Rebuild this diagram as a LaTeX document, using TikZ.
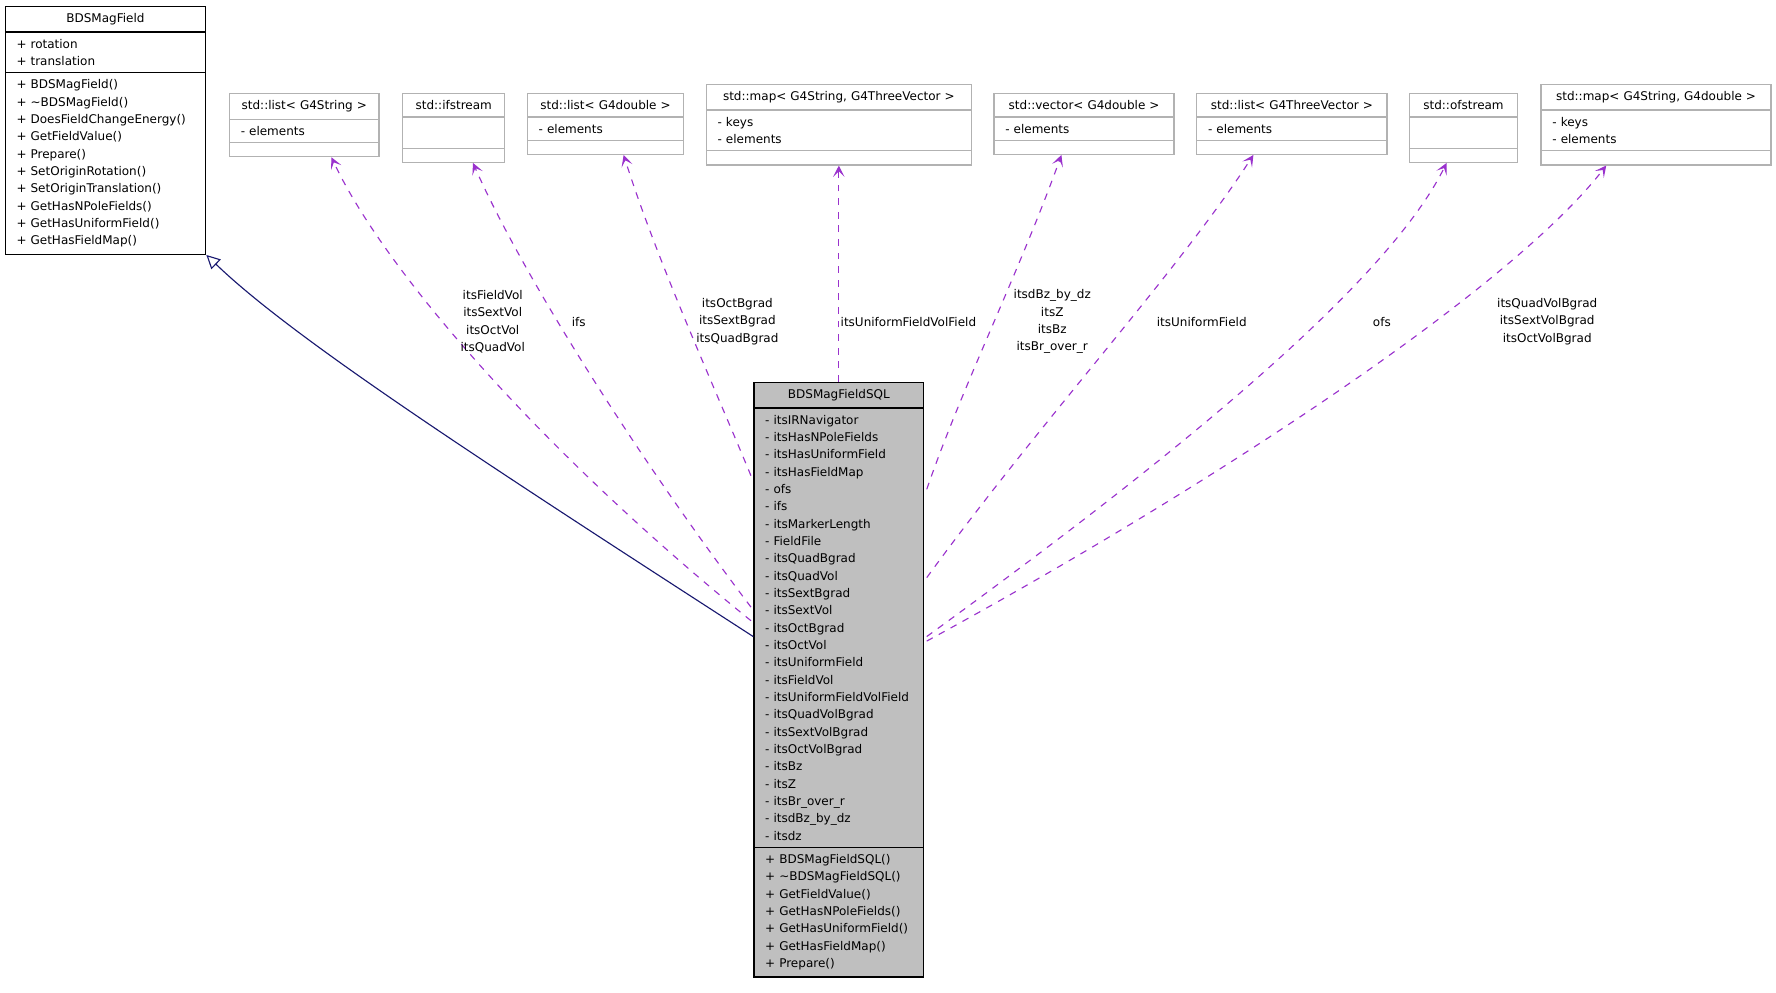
\documentclass[tikz,border=0pt]{standalone}
\usepackage{fontspec}
\setmainfont{DejaVu Sans}
\usetikzlibrary{%
  shapes.multipart,%
  calc,%
  arrows.meta%
}
\definecolor{dep}{HTML}{9A32CD}
\definecolor{inh}{HTML}{191970}
\hyphenpenalty=10000
\exhyphenpenalty=10000

\begin{document}
\begin{tikzpicture}[x=0.5pt,y=-0.5pt,
  font=\fontsize{5.3}{7.65}\selectfont,
  cls/.style={rectangle split,rectangle split parts=3,draw=black!30,
    anchor=north west,inner xsep=5pt,inner ysep=2.8pt,
    every text node part/.style={align=center},
    every two node part/.style={align=left},
    every three node part/.style={align=left},
    rectangle split empty part height=7pt,line width=0.6pt},
  main/.style={cls,draw=black},
  use/.style={dep,dashed,-{Stealth[length=5pt,width=5pt,inset=2.5pt]},line width=0.5pt},
  lbl/.style={align=center,inner sep=1pt,text=black}]
\useasboundingbox (0,0) rectangle (1568,876);
% classes
\node[main,text width=78.5pt] (base) at (4,5) {BDSMagField
  \nodepart{two}+ rotation\\+ translation
  \nodepart{three}+ BDSMagField()\\+ \textasciitilde BDSMagField()\\+ DoesFieldChangeEnergy()\\+ GetFieldValue()\\+ Prepare()\\+ SetOriginRotation()\\+ SetOriginTranslation()\\+ GetHasNPoleFields()\\+ GetHasUniformField()\\+ GetHasFieldMap()};
\node[cls,text width=56pt] (lstr) at (202,82) {std::list< G4String >
  \nodepart{two}- elements \nodepart{three}};
\node[cls,text width=35pt] (ifs) at (355,82) {std::ifstream
  \nodepart{two}\strut \nodepart{three}};
\node[cls,text width=59pt] (ldbl) at (465,82) {std::list< G4double >
  \nodepart{two}- elements \nodepart{three}};
\node[cls,text width=107pt] (mvec) at (623,74) {std::map< G4String, G4ThreeVector >
  \nodepart{two}- keys\\- elements \nodepart{three}};
\node[cls,text width=69.5pt] (vdbl) at (877,82) {std::vector< G4double >
  \nodepart{two}- elements \nodepart{three}};
\node[cls,text width=74pt] (lvec) at (1056,82) {std::list< G4ThreeVector >
  \nodepart{two}- elements \nodepart{three}};
\node[cls,text width=37.5pt] (ofs) at (1244,82) {std::ofstream
  \nodepart{two}\strut \nodepart{three}};
\node[cls,text width=91.5pt] (mdbl) at (1360,74) {std::map< G4String, G4double >
  \nodepart{two}- keys\\- elements \nodepart{three}};
\node[main,fill=black!25,text width=65pt] (sql) at (665,337) {BDSMagFieldSQL
  \nodepart{two}- itsIRNavigator\\- itsHasNPoleFields\\- itsHasUniformField\\- itsHasFieldMap\\- ofs\\- ifs\\- itsMarkerLength\\- FieldFile\\- itsQuadBgrad\\- itsQuadVol\\- itsSextBgrad\\- itsSextVol\\- itsOctBgrad\\- itsOctVol\\- itsUniformField\\- itsFieldVol\\- itsUniformFieldVolField\\- itsQuadVolBgrad\\- itsSextVolBgrad\\- itsOctVolBgrad\\- itsBz\\- itsZ\\- itsBr\_over\_r\\- itsdBz\_by\_dz\\- itsdz
  \nodepart{three}+ BDSMagFieldSQL()\\+ \textasciitilde BDSMagFieldSQL()\\+ GetFieldValue()\\+ GetHasNPoleFields()\\+ GetHasUniformField()\\+ GetHasFieldMap()\\+ Prepare()};
% inheritance
\draw[inh,-{Triangle[open,length=6pt,width=6pt]},line width=0.5pt]
  ($(sql.north west)+(0,225)$) .. controls (430,410) and (260,300) .. (base.south east);
% usage
\draw[use] ($(sql.north west)+(-2,211)$) .. controls (480,400) and (340,240) .. ($(lstr.south)+(24,0)$)
  node[lbl] at (435,284) {itsFieldVol\\itsSextVol\\itsOctVol\\itsQuadVol};
\draw[use] ($(sql.north west)+(-2,199)$) .. controls (560,400) and (460,240) .. ($(ifs.south)+(17,0)$)
  node[lbl] at (511,284) {ifs};
\draw[use] ($(sql.north west)+(-2,83)$) .. controls (630,340) and (580,230) .. ($(ldbl.south)+(16,0)$)
  node[lbl] at (651,284) {itsOctBgrad\\itsSextBgrad\\itsQuadBgrad};
\draw[use] (sql.north) -- (mvec.south)
  node[lbl] at (802,284) {itsUniformFieldVolField};
\draw[use] ($(sql.north east)+(2,95)$) .. controls (850,340) and (900,240) .. ($(vdbl.south)+(-20,0)$)
  node[lbl] at (929,284) {itsdBz\_by\_dz\\itsZ\\itsBz\\itsBr\_over\_r};
\draw[use] ($(sql.north east)+(2,173)$) .. controls (920,370) and (1040,240) .. ($(lvec.south)+(-34,0)$)
  node[lbl] at (1061,284) {itsUniformField};
\draw[use] ($(sql.north east)+(2,225)$) .. controls (1000,430) and (1220,260) .. ($(ofs.south)+(-15,0)$)
  node[lbl] at (1220,284) {ofs};
\draw[use] ($(sql.north east)+(2,229)$) .. controls (1050,440) and (1330,260) .. ($(mdbl.south)+(-44,0)$)
  node[lbl] at (1366,284) {itsQuadVolBgrad\\itsSextVolBgrad\\itsOctVolBgrad};
\end{tikzpicture}
\end{document}
